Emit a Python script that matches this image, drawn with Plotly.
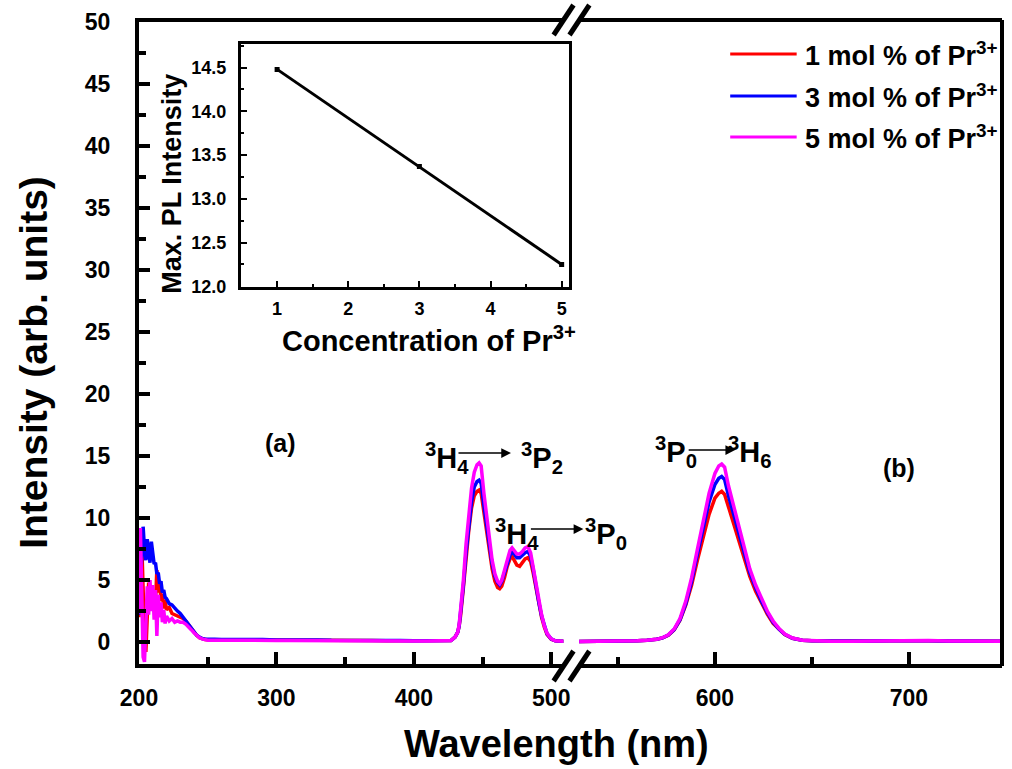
import plotly.graph_objects as go

# ---------------- data ----------------
wl_left = [200, 201, 202, 203, 204, 205, 206, 207, 208, 209, 210, 211, 212, 213, 214, 215, 216, 217, 218, 219, 220,
           222, 224, 226, 228, 230, 232, 234, 236, 238, 240, 242, 244, 246, 248, 250,
           255, 260, 270, 280, 290, 300, 310, 320, 330, 340, 350, 360, 370, 380, 390, 400, 410, 420,
           424, 427, 430, 432, 433, 434, 436, 438, 440, 442, 444, 446, 447.5, 449, 451, 453, 455, 457, 459, 461,
           462.5, 464, 466, 468, 470, 471.5, 473, 475, 477, 479, 481, 483, 485, 487, 489, 491, 493, 495, 497,
           500, 503, 506, 509]

int1_left = [2.0, 6.5, 8.0, 3.5, 0.5, -0.8, 2.5, 4.8, 3.0, 4.6, 2.8, 4.2, 3.2, 5.8, 4.0, 4.9, 3.3, 3.9, 2.7, 3.4, 2.6,
             2.8, 2.3, 2.2, 2.1, 2.0, 1.9, 1.7, 1.4, 1.1, 0.8, 0.55, 0.35, 0.25, 0.2, 0.18,
             0.18, 0.17, 0.15, 0.16, 0.14, 0.15, 0.13, 0.14, 0.12, 0.13, 0.12, 0.11, 0.12, 0.1, 0.1, 0.09, 0.09, 0.1,
             0.1, 0.12, 0.4, 0.8, 1.3, 2.1, 4.3, 6.9, 9.0, 10.8, 11.8, 12.15, 12.25, 12.0, 10.4, 8.8, 7.2, 5.9, 4.9, 4.4,
             4.3, 4.5, 5.2, 6.1, 6.7, 6.9, 6.6, 6.2, 6.1, 6.4, 6.7, 6.8, 6.5, 5.5, 4.2, 3.1, 2.0, 1.2, 0.6,
             0.22, 0.1, 0.08, 0.07]

int3_left = [2.2, 5.0, 7.8, 9.3, 7.5, 6.6, 8.3, 7.0, 6.4, 8.1, 7.2, 6.3, 6.4, 5.5, 5.6, 4.7, 4.9, 4.0, 4.2, 3.6, 3.5,
             3.1, 3.0, 2.7, 2.5, 2.3, 2.0, 1.7, 1.35, 1.05, 0.75, 0.55, 0.4, 0.28, 0.24, 0.22,
             0.22, 0.2, 0.22, 0.18, 0.2, 0.17, 0.19, 0.15, 0.17, 0.14, 0.15, 0.13, 0.14, 0.12, 0.12, 0.11, 0.1, 0.1,
             0.1, 0.12, 0.4, 0.8, 1.3, 2.2, 4.5, 7.2, 9.4, 11.3, 12.5, 12.95, 13.05, 12.8, 11.0, 9.3, 7.6, 6.3, 5.3, 4.8,
             4.6, 4.9, 5.6, 6.4, 7.0, 7.25, 7.1, 6.8, 6.8, 7.0, 7.2, 7.3, 6.9, 5.8, 4.4, 3.2, 2.1, 1.25, 0.65,
             0.25, 0.1, 0.08, 0.07]

int5_left = [2.3, 9.2, 4.0, -1.2, -1.6, 2.0, 4.5, 2.2, 5.0, 2.5, 4.6, 1.8, 4.2, 0.5, 3.8, 2.0, 3.2, 1.6, 2.6, 1.5, 2.1,
             1.7, 1.9, 1.6, 1.7, 1.6, 1.6, 1.45, 1.25, 1.0, 0.75, 0.5, 0.35, 0.25, 0.18, 0.15,
             0.15, 0.14, 0.13, 0.14, 0.12, 0.13, 0.12, 0.11, 0.12, 0.1, 0.11, 0.1, 0.09, 0.1, 0.09, 0.08, 0.09, 0.1,
             0.1, 0.12, 0.4, 0.8, 1.4, 2.4, 4.9, 7.9, 10.3, 12.4, 13.7, 14.3, 14.45, 14.2, 12.0, 10.1, 8.1, 6.6, 5.5, 4.9,
             4.7, 5.0, 5.8, 6.7, 7.4, 7.6, 7.4, 7.1, 7.1, 7.3, 7.6, 7.7, 7.2, 6.0, 4.5, 3.3, 2.2, 1.3, 0.7,
             0.25, 0.1, 0.08, 0.07]

wl_right = [530, 535, 540, 545, 550, 555, 560, 565, 570, 573, 576, 579, 582, 585, 588, 591, 594, 597, 600, 602,
            603.5, 605, 607, 609, 611, 613, 615, 618, 621, 624, 627, 630, 633, 636, 640, 645, 650, 660, 670, 680,
            690, 700, 710, 720, 730, 740, 748]

int1_right = [0.05, 0.05, 0.06, 0.07, 0.08, 0.09, 0.1, 0.14, 0.22, 0.34, 0.55, 0.98, 1.75, 3.0, 4.6, 6.6, 8.5, 10.3, 11.6, 12.0,
              12.15, 11.9, 10.9, 9.9, 8.8, 7.8, 6.8, 5.3, 4.1, 3.1, 2.25, 1.5, 1.0, 0.6, 0.3, 0.15, 0.1, 0.07, 0.06, 0.08,
              0.11, 0.14, 0.11, 0.09, 0.07, 0.06, 0.06]

int3_right = [0.05, 0.05, 0.06, 0.07, 0.08, 0.09, 0.1, 0.14, 0.22, 0.34, 0.56, 1.0, 1.8, 3.1, 4.9, 7.1, 9.3, 11.3, 12.7, 13.2,
              13.35, 13.1, 11.8, 10.7, 9.4, 8.3, 7.2, 5.6, 4.4, 3.3, 2.4, 1.6, 1.05, 0.62, 0.3, 0.15, 0.1, 0.07, 0.06, 0.08,
              0.11, 0.14, 0.11, 0.09, 0.07, 0.06, 0.06]

int5_right = [0.05, 0.05, 0.06, 0.07, 0.08, 0.09, 0.1, 0.14, 0.22, 0.35, 0.58, 1.05, 1.9, 3.3, 5.2, 7.5, 9.9, 12.0, 13.6, 14.2,
              14.35, 14.1, 12.6, 11.4, 10.0, 8.8, 7.6, 5.9, 4.6, 3.5, 2.5, 1.7, 1.1, 0.65, 0.32, 0.15, 0.1, 0.07, 0.06, 0.08,
              0.12, 0.15, 0.12, 0.09, 0.07, 0.06, 0.06]

series_names = ["1 mol % of Pr<sup>3+</sup>", "3 mol % of Pr<sup>3+</sup>", "5 mol % of Pr<sup>3+</sup>"]
series_colors = ["#ff0000", "#0000ff", "#ff00ff"]

conc = [1, 3, 5]
max_pl = [14.48, 13.37, 12.25]

# ---------------- style ----------------
FONT = "Liberation Sans, Arial, sans-serif"
W, H = 1012, 769
ML, MR, MT, MB = 139, 3, 22, 105
PW, PH = W - ML - MR, H - MT - MB


def px2x(px):
    return (px - ML) / PW


def py2y(py):
    return (H - MB - py) / PH


fig = go.Figure()

left_vals = [int1_left, int3_left, int5_left]
right_vals = [int1_right, int3_right, int5_right]
for name, col, lv, rv in zip(series_names, series_colors, left_vals, right_vals):
    fig.add_trace(go.Scatter(x=wl_left, y=lv, mode="lines", name=name, line=dict(color=col, width=3.5),
                             xaxis="x", yaxis="y", showlegend=False))
    fig.add_trace(go.Scatter(x=wl_right, y=rv, mode="lines", name=name, line=dict(color=col, width=3.5),
                             xaxis="x2", yaxis="y", showlegend=False))

fig.add_trace(go.Scatter(x=conc, y=max_pl, mode="lines+markers", line=dict(color="black", width=3),
                         marker=dict(symbol="square", size=5, color="black"),
                         xaxis="x3", yaxis="y3", showlegend=False))

tickfont_main = dict(family=FONT, size=23, color="black", weight="bold")
tickfont_inset = dict(family=FONT, size=18, color="black", weight="bold")
split = 0.492

common_x = dict(showline=True, linewidth=4, linecolor="black", mirror=True, ticks="inside",
                ticklen=12, tickwidth=4, tickcolor="black", showgrid=False, zeroline=False,
                tickfont=tickfont_main, ticklabelstandoff=10, anchor="y")

fig.update_layout(
    width=W, height=H, margin=dict(l=ML, r=MR, t=MT, b=MB),
    paper_bgcolor="white", plot_bgcolor="white",
    xaxis=dict(domain=[0, split], range=[200, 509], tick0=200, dtick=100,
               minor=dict(tick0=200, dtick=50, ticklen=7, tickwidth=4, tickcolor="black", ticks="inside"),
               **common_x),
    xaxis2=dict(domain=[split, 1], range=[522, 748], tick0=500, dtick=100,
                minor=dict(tick0=500, dtick=50, ticklen=7, tickwidth=4, tickcolor="black", ticks="inside"),
                **common_x),
    yaxis=dict(domain=[0, 1], range=[-1.77, 50], anchor="x", dtick=5, tick0=0,
               showline=True, linewidth=4, linecolor="black", ticks="inside", ticklen=11, tickwidth=4,
               tickcolor="black", showgrid=False, zeroline=False, tickfont=tickfont_main,
               ticklabelstandoff=20,
               minor=dict(tick0=0, dtick=2.5, ticklen=7, tickwidth=4, tickcolor="black", ticks="inside")),
    xaxis3=dict(domain=[0.118, 0.498], range=[0.49, 5.1], anchor="y3", dtick=1, tick0=0,
                showline=True, linewidth=3, linecolor="black", mirror=True, ticks="inside", ticklen=6,
                tickwidth=2, tickcolor="black", showgrid=False, zeroline=False, tickfont=tickfont_inset,
                ticklabelstandoff=4,
                minor=dict(tick0=0, dtick=0.5, ticklen=3, tickwidth=2, tickcolor="black", ticks="inside")),
    yaxis3=dict(domain=[0.5877, 0.9657], range=[11.995, 14.77], anchor="x3", dtick=0.5, tick0=0,
                tickformat=".1f", showline=True, linewidth=3, linecolor="black", mirror=True, ticks="inside",
                ticklen=6, tickwidth=2, tickcolor="black", showgrid=False, zeroline=False,
                tickfont=tickfont_inset, ticklabelstandoff=8,
                minor=dict(tick0=0, dtick=0.25, ticklen=3, tickwidth=2, tickcolor="black", ticks="inside")),
)

shapes = []
# right frame line
shapes.append(dict(type="line", xref="paper", yref="paper", x0=1, x1=1, y0=py2y(666), y1=py2y(20),
                   line=dict(color="black", width=4)))
# axis break marks (bottom and top)
for yc in (666, 20):
    shapes.append(dict(type="line", xref="paper", yref="paper", x0=px2x(567), x1=px2x(583),
                       y0=py2y(yc), y1=py2y(yc), line=dict(color="white", width=7)))
    for xc in (567, 583):
        shapes.append(dict(type="line", xref="paper", yref="paper", x0=px2x(xc - 10), x1=px2x(xc + 10),
                           y0=py2y(yc + 15), y1=py2y(yc - 15), line=dict(color="black", width=5)))
# manual legend lines
legend_py = [54, 96, 137]
for col, ly in zip(series_colors, legend_py):
    shapes.append(dict(type="line", xref="paper", yref="paper", x0=px2x(735), x1=px2x(802),
                       y0=py2y(ly), y1=py2y(ly), line=dict(color=col, width=3)))
fig.update_layout(shapes=shapes)

ann = []


def text(px, py, s, size, xanchor="center", angle=0):
    ann.append(dict(x=px2x(px), y=py2y(py), xref="paper", yref="paper", text=s, showarrow=False,
                    xanchor=xanchor, yanchor="middle", textangle=angle,
                    font=dict(family=FONT, size=size, color="black", weight="bold")))


for name, ly in zip(series_names, legend_py):
    text(808, ly, name, 27, xanchor="left")

text(560, 744, "Wavelength (nm)", 38)
text(32, 362, "Intensity (arb. units)", 39, angle=-90)
text(172, 184, "Max. PL Intensity", 27, angle=-90)
text(431, 339, "Concentration of Pr<sup>3+</sup>", 29)
text(282, 443, "(a)", 25)
text(905, 468, "(b)", 25)

text(449, 458, "<sup>3</sup>H<sub>4</sub>", 29)
text(545, 458, "<sup>3</sup>P<sub>2</sub>", 29)
text(520, 534, "<sup>3</sup>H<sub>4</sub>", 29)
text(610, 534, "<sup>3</sup>P<sub>0</sub>", 29)
text(680, 452, "<sup>3</sup>P<sub>0</sub>", 29)
text(755, 452, "<sup>3</sup>H<sub>6</sub>", 29)

for hx, tx, ay_ in ((514, 460, 453), (587, 533, 529), (740, 692, 450)):
    ann.append(dict(x=px2x(hx), y=py2y(ay_), xref="paper", yref="paper", ax=tx - hx, ay=0,
                    showarrow=True, arrowhead=2, arrowsize=1.5, arrowwidth=1.3, arrowcolor="black", text=""))

fig.update_layout(annotations=ann)

fig.write_html("out.html")
